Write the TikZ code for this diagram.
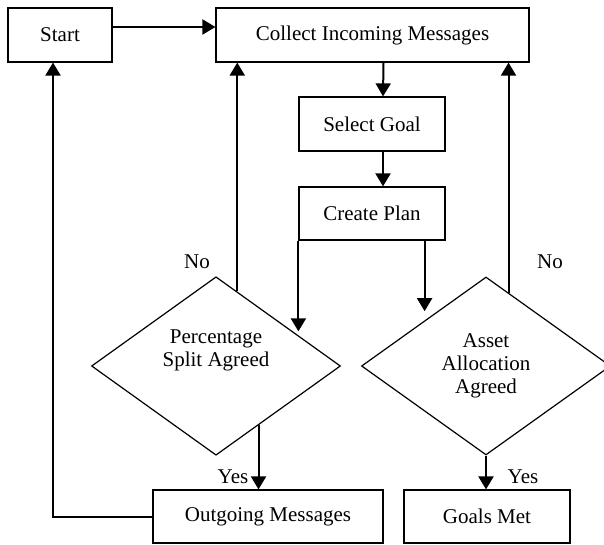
\documentclass[tikz,border=0pt]{standalone}
\usepackage{fontspec}
\setmainfont{Liberation Serif}
\usepackage{tikz}
\usetikzlibrary{shapes.geometric, arrows.meta, calc}

\begin{document}
\begin{tikzpicture}[x=1pt, y=-1pt,
    every node/.style={font=\fontsize{21}{23}\selectfont},
    stepbox/.style={draw, line width=1.2pt, rectangle, inner sep=0pt},
    choice/.style={draw, line width=1.2pt, diamond, inner sep=0pt, align=center},
    flow/.style={line width=2pt, -{Triangle[length=13pt, width=15pt]}}]
					\useasboundingbox (0, 0) rectangle (604, 545);

					\node[stepbox, minimum width=104, minimum height=54] (start) at (60, 35) {Start};
					\node[stepbox, minimum width=313, minimum height=54] (collect) at (372.5, 35) {Collect Incoming Messages};
					\node[stepbox, minimum width=146, minimum height=54] (goal) at (372, 124) {Select Goal};
					\node[stepbox, minimum width=146, minimum height=53] (plan) at (372, 213.5) {Create Plan};
					\node[choice, minimum width=249, minimum height=178] (split) at (216, 366) {Percentage\\Split Agreed\\[12pt]};
					\node[choice, minimum width=249, minimum height=178] (asset) at (486, 366) {Asset\\Allocation\\Agreed};
					\node[stepbox, minimum width=230, minimum height=53] (outgoing) at (268, 516.5) {Outgoing Messages};
					\node[stepbox, minimum width=166, minimum height=53] (met) at (487, 516.5) {Goals Met};

					\coordinate (splitIn) at ($(split.north)!0.67!(split.east)$);
					\coordinate (splitNo) at ($(split.north)!0.17!(split.east)$);
					\coordinate (splitYes) at ($(split.south)!0.34!(split.east)$);
					\coordinate (assetNo) at ($(asset.north)!0.18!(asset.east)$);
					\coordinate (planOut) at ([xshift=-21]plan.south east);

					\draw[flow] ([yshift=8]start.east) -- ([yshift=8]start.east -| collect.west);
					\draw[flow] ([xshift=11]collect.south) -- ([xshift=11]goal.north);
					\draw[flow] ([xshift=11]goal.south) -- ([xshift=11]plan.north);
					\draw[flow, shorten >=5] (plan.south west) -- (plan.south west |- splitIn);
					\draw[flow, shorten >=10] (planOut) -- (planOut |- asset.north west);

					\draw[flow] (splitNo) -- (splitNo |- collect.south);
					\draw[flow] (assetNo) -- (assetNo |- collect.south);
					\draw[flow] (splitYes) -- (splitYes |- outgoing.north);
					\draw[flow] (asset.south) -- (asset.south |- met.north);
					\draw[flow] (outgoing.west) -| ([xshift=-7]start.south);

					\node (noLeft) at (197, 262) {No};
					\node (noRight) at (550, 262) {No};
					\node (yesLeft) at (233, 477) {Yes};
					\node (yesRight) at (523, 477) {Yes};
				\end{tikzpicture}
\end{document}
